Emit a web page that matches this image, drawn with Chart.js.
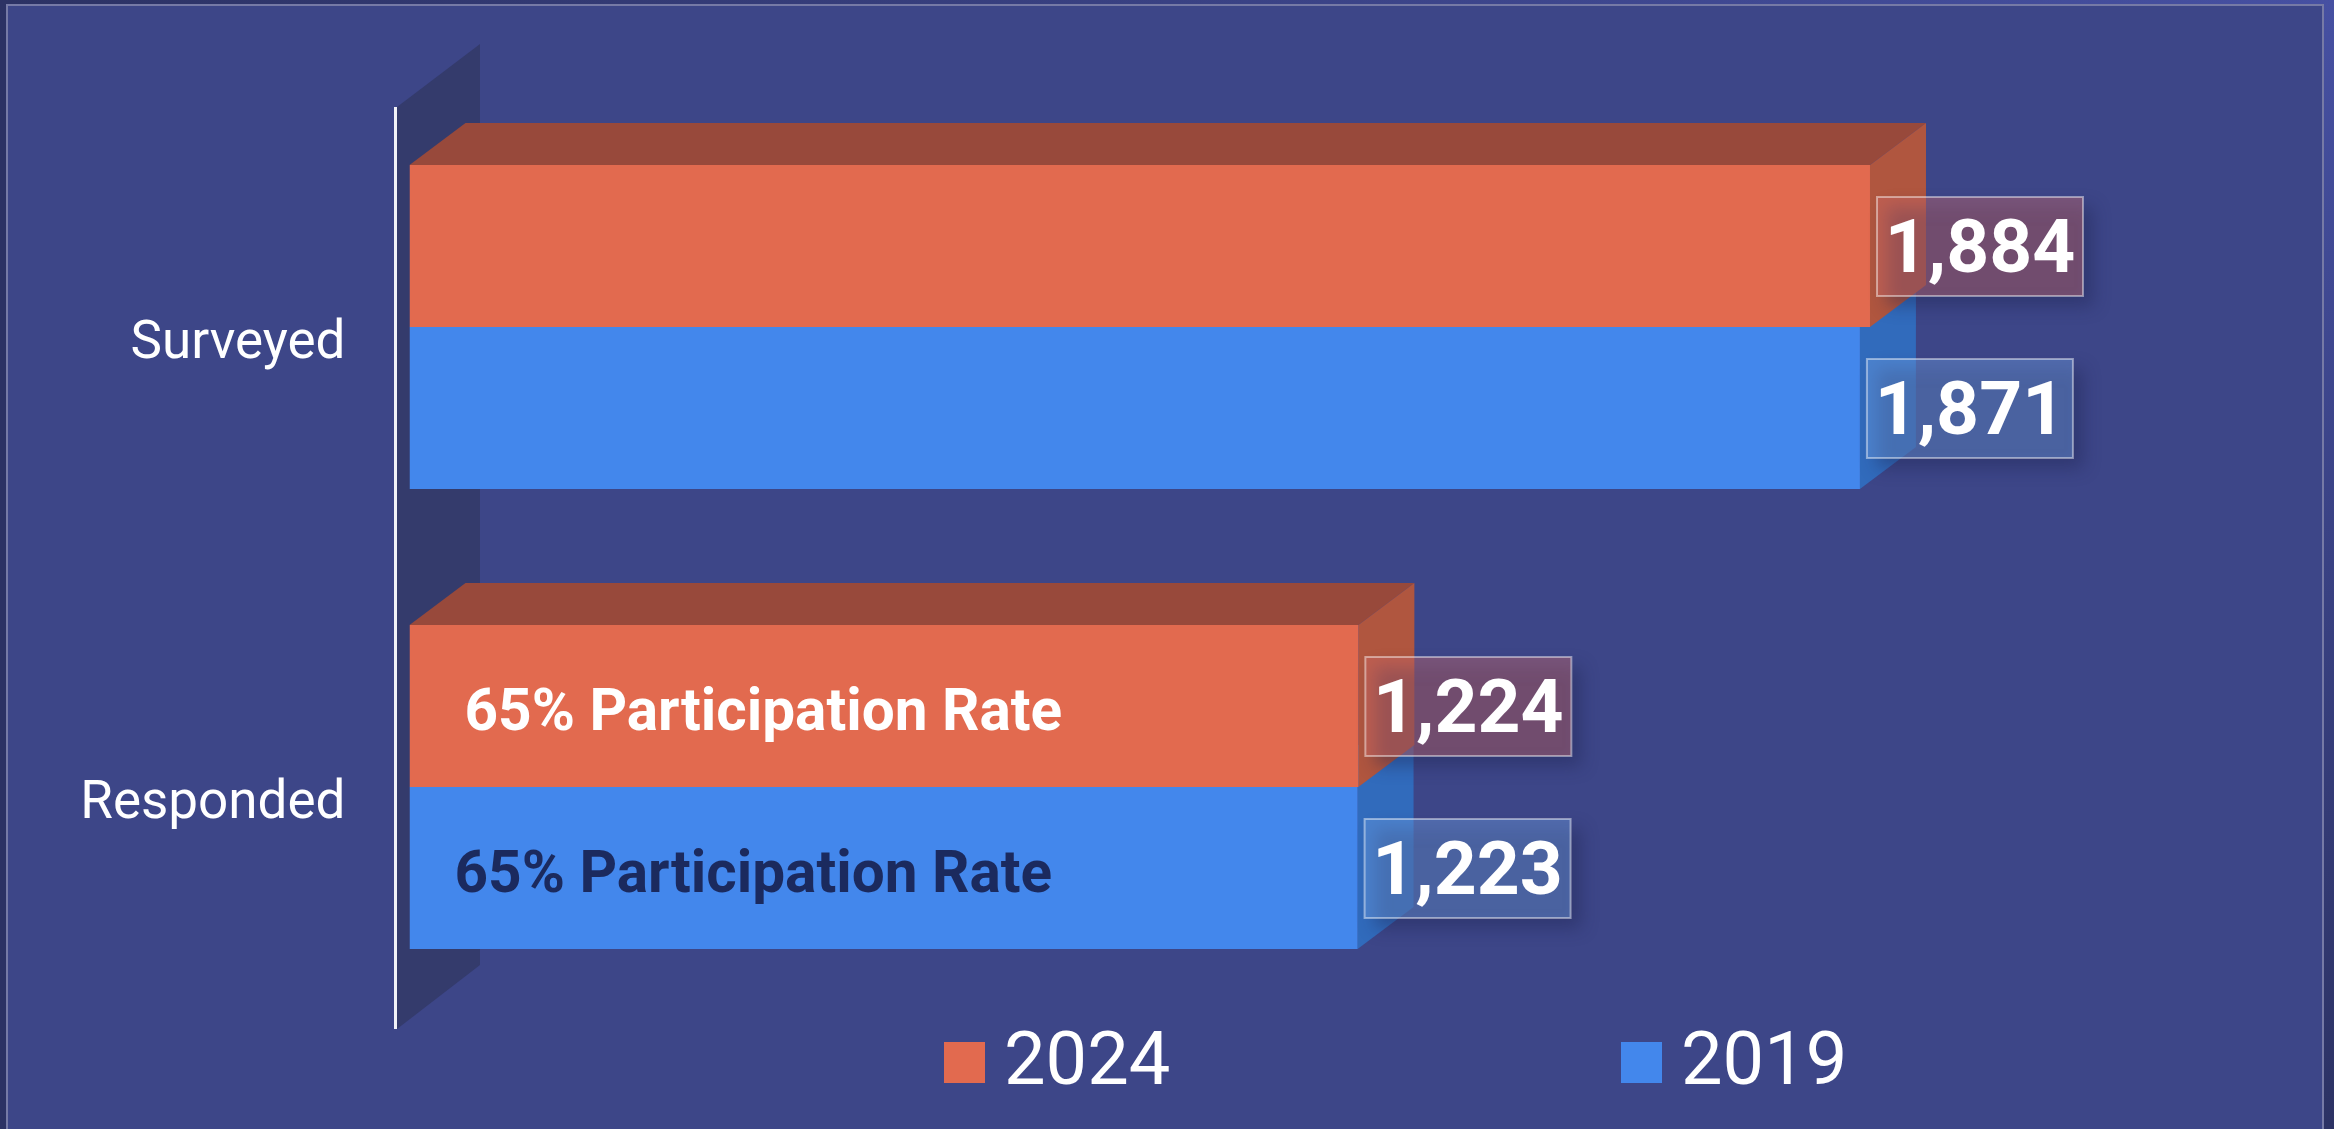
<!DOCTYPE html>
<html>
<head>
<meta charset="utf-8">
<title>Participation</title>
<script src="https://cdn.jsdelivr.net/npm/chart.js@4"></script>
<style>
    html, body { margin: 0; padding: 0; height: 100%; overflow: hidden; }
    body { background: linear-gradient(to top right, #2c3264 50%, #4650a2 100%); }
    #frame {
        position: absolute; left: 6px; top: 4px; width: 2318px; height: 1130px;
        box-sizing: border-box;
        background: #3d4688;
        border: 2px solid #767aa6;
    }
    #chart-wrap { position: absolute; left: 0; top: 0; width: 2334px; height: 1129px; }
</style>
</head>
<body>
<div id="frame"></div>
<div id="chart-wrap"><canvas id="chart"></canvas></div>
<script>
// Data
const categories = ['Surveyed', 'Responded'];
const seriesNames = ['2024', '2019'];
const values2024 = [1884, 1224];
const values2019 = [1871, 1223];
const notes2024 = [null, '65% Participation Rate'];
const notes2019 = [null, '65% Participation Rate'];

const ORANGE = '#e26a4f';
const BLUE = '#4387ec';
const DEPTH_X = 56;
const DEPTH_Y = 42;

function poly(ctx, pts, color) {
    ctx.fillStyle = color;
    ctx.beginPath();
    pts.forEach((p, i) => i ? ctx.lineTo(p[0], p[1]) : ctx.moveTo(p[0], p[1]));
    ctx.closePath();
    ctx.fill();
}

// Back wall, axis line and the top / side faces of the bars
const depthFaces = {
    id: 'depthFaces',
    beforeDatasetsDraw(chart) {
        const ctx = chart.ctx;
        const area = chart.chartArea;
        const wallX = Math.round(area.left - 13);
        const top = area.top + 10;
        const bottom = area.bottom + 12;

        ctx.save();
        poly(ctx, [[wallX, top], [wallX + 83, top - 63], [wallX + 83, bottom - 64], [wallX, bottom]], '#343b6c');
        ctx.fillStyle = '#f2f3f8';
        ctx.fillRect(wallX - 3, top, 3, bottom - top);

        // draw 2019 first so that the 2024 faces lie on top of it
        const styles = [{ top: '#98493b', side: '#b0563f' }, { top: '#2f63b0', side: '#316bbc' }];
        [1, 0].forEach(di => {
            chart.getDatasetMeta(di).data.forEach(bar => {
                const x0 = bar.base, x1 = bar.x;
                const y0 = bar.y - bar.height / 2, y1 = bar.y + bar.height / 2;
                poly(ctx, [[x0, y0], [x0 + DEPTH_X, y0 - DEPTH_Y], [x1 + DEPTH_X, y0 - DEPTH_Y], [x1, y0]], styles[di].top);
                poly(ctx, [[x1, y0], [x1 + DEPTH_X, y0 - DEPTH_Y], [x1 + DEPTH_X, y1 - DEPTH_Y], [x1, y1]], styles[di].side);
            });
        });
        ctx.restore();
    }
};

// Value boxes, text inside the bars and the legend
const barLabels = {
    id: 'barLabels',
    afterDatasetsDraw(chart) {
        const ctx = chart.ctx;
        const fills = ['rgba(211,108,104,0.4)', 'rgba(112,163,229,0.4)'];
        const noteColors = ['#ffffff', '#1b2a5e'];
        const noteOffsets = [55, 45];
        const notes = [notes2024, notes2019];
        const W = 206, H = 99;

        ctx.save();
        chart.data.datasets.forEach((ds, di) => {
            chart.getDatasetMeta(di).data.forEach((bar, i) => {
                const bx = bar.x + 7, by = bar.y - H / 2 + 0.5;

                // shadow only, drawn from a rectangle kept off the canvas
                ctx.save();
                ctx.shadowColor = 'rgba(30,36,80,0.4)';
                ctx.shadowBlur = 16;
                ctx.shadowOffsetX = 5000 + 10;
                ctx.shadowOffsetY = 10;
                ctx.fillStyle = '#000';
                ctx.fillRect(bx - 5000, by, W, H);
                ctx.restore();

                ctx.fillStyle = fills[di];
                ctx.fillRect(bx, by, W, H);
                ctx.strokeStyle = 'rgba(255,255,255,0.45)';
                ctx.lineWidth = 2;
                ctx.strokeRect(bx, by, W, H);

                ctx.fillStyle = '#fff';
                ctx.font = 'bold 75px Roboto';
                ctx.textAlign = 'center';
                ctx.textBaseline = 'middle';
                ctx.fillText(ds.data[i].toLocaleString('en-US'), bx + W / 2, by + H / 2 + 7);

                if (notes[di][i]) {
                    ctx.fillStyle = noteColors[di];
                    ctx.font = 'bold 58.5px Roboto';
                    ctx.textAlign = 'left';
                    ctx.fillText(notes[di][i], bar.base + noteOffsets[di], bar.y + 9);
                }
            });
        });

        // legend
        const legendX = [944, 1621];
        chart.data.datasets.forEach((ds, di) => {
            ctx.fillStyle = ds.backgroundColor;
            ctx.fillRect(legendX[di], 1042, 41, 41);
            ctx.fillStyle = '#fff';
            ctx.font = '400 74px Roboto';
            ctx.textAlign = 'left';
            ctx.textBaseline = 'alphabetic';
            ctx.fillText(ds.label, legendX[di] + 60, 1084);
        });
        ctx.restore();
    }
};

new Chart(document.getElementById('chart'), {
    type: 'bar',
    data: {
        labels: categories,
        datasets: [
            { label: seriesNames[0], data: values2024, backgroundColor: ORANGE },
            { label: seriesNames[1], data: values2019, backgroundColor: BLUE }
        ]
    },
    options: {
        indexAxis: 'y',
        responsive: true,
        maintainAspectRatio: false,
        animation: false,
        layout: { padding: { left: 5, top: 97, right: 64, bottom: 112 } },
        datasets: { bar: { categoryPercentage: 0.7043, barPercentage: 1 } },
        plugins: { legend: { display: false }, tooltip: { enabled: false } },
        scales: {
            x: { display: false, min: 0, max: 2400 },
            y: {
                afterFit(scale) { scale.width = 404.5; },
                grid: { display: false, drawTicks: false },
                border: { display: false },
                ticks: {
                    color: '#fff',
                    padding: 64,
                    labelOffset: 18,
                    font: { family: 'Roboto', size: 53 }
                }
            }
        }
    },
    plugins: [depthFaces, barLabels]
});
</script>
</body>
</html>
